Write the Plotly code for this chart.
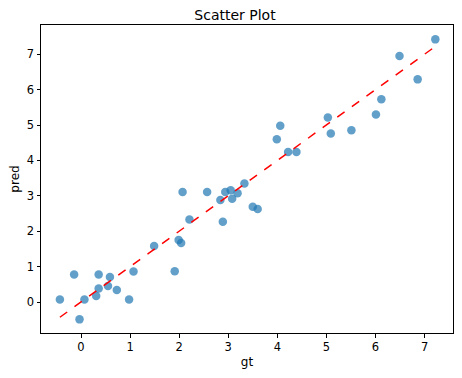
import plotly.graph_objects as go

gt = [-0.43, -0.14, -0.03, 0.07, 0.31, 0.36, 0.36, 0.55, 0.59, 0.73, 0.98, 1.07,
      1.49, 1.91, 1.99, 2.04, 2.07, 2.21, 2.57, 2.84, 2.89, 2.94, 3.05, 3.08,
      3.19, 3.33, 3.50, 3.60, 3.99, 4.06, 4.22, 4.39, 5.03, 5.09, 5.51, 6.01,
      6.12, 6.49, 6.86, 7.22]
pred = [0.07, 0.78, -0.49, 0.07, 0.17, 0.38, 0.78, 0.45, 0.71, 0.34, 0.07, 0.86,
        1.58, 0.87, 1.75, 1.67, 3.11, 2.33, 3.11, 2.88, 2.27, 3.11, 3.16, 2.92,
        3.07, 3.35, 2.69, 2.63, 4.60, 4.98, 4.24, 4.24, 5.21, 4.76, 4.85, 5.30,
        5.73, 6.95, 6.29, 7.42]
x_ticks = [0, 1, 2, 3, 4, 5, 6, 7]
y_ticks = [0, 1, 2, 3, 4, 5, 6, 7]

lo, hi = min(gt), max(gt)

fig = go.Figure()
fig.add_trace(go.Scatter(
    x=gt, y=pred, mode="markers",
    marker=dict(size=8.5, color="#1f77b4", opacity=0.7,
                line=dict(width=0)),
    showlegend=False))
fig.add_trace(go.Scatter(
    x=[lo, hi], y=[lo, hi], mode="lines",
    line=dict(color="red", dash="dash", width=1.5),
    showlegend=False))

axis_common = dict(
    showgrid=False, zeroline=False, showline=True, mirror=True,
    linecolor="black", linewidth=1, ticks="outside", ticklen=3.5,
    tickcolor="black", tickwidth=1, automargin=False,
    tickfont=dict(family="DejaVu Sans", size=11.5, color="black"),
)

# page body has an 8px margin, so the figure is 454x370 placed at (8, 8)
W, H = 454, 370
fig.update_layout(
    width=W, height=H,
    margin=dict(l=33, r=9, t=17, b=45),
    paper_bgcolor="white", plot_bgcolor="white",
    title=dict(text="Scatter Plot", x=0.5, xanchor="center",
               y=1 - 7.5 / H, yanchor="middle",
               font=dict(family="DejaVu Sans", size=14, color="black")),
    xaxis=dict(range=[-0.815, 7.58], tickvals=x_ticks,
               title=dict(text="gt", standoff=4,
                          font=dict(family="DejaVu Sans", size=12, color="black")),
               **axis_common),
    yaxis=dict(range=[-0.875, 7.826], tickvals=y_ticks,
               title=dict(text="pred", standoff=5,
                          font=dict(family="DejaVu Sans", size=12, color="black")),
               **axis_common),
)

fig.write_html("out.html")
